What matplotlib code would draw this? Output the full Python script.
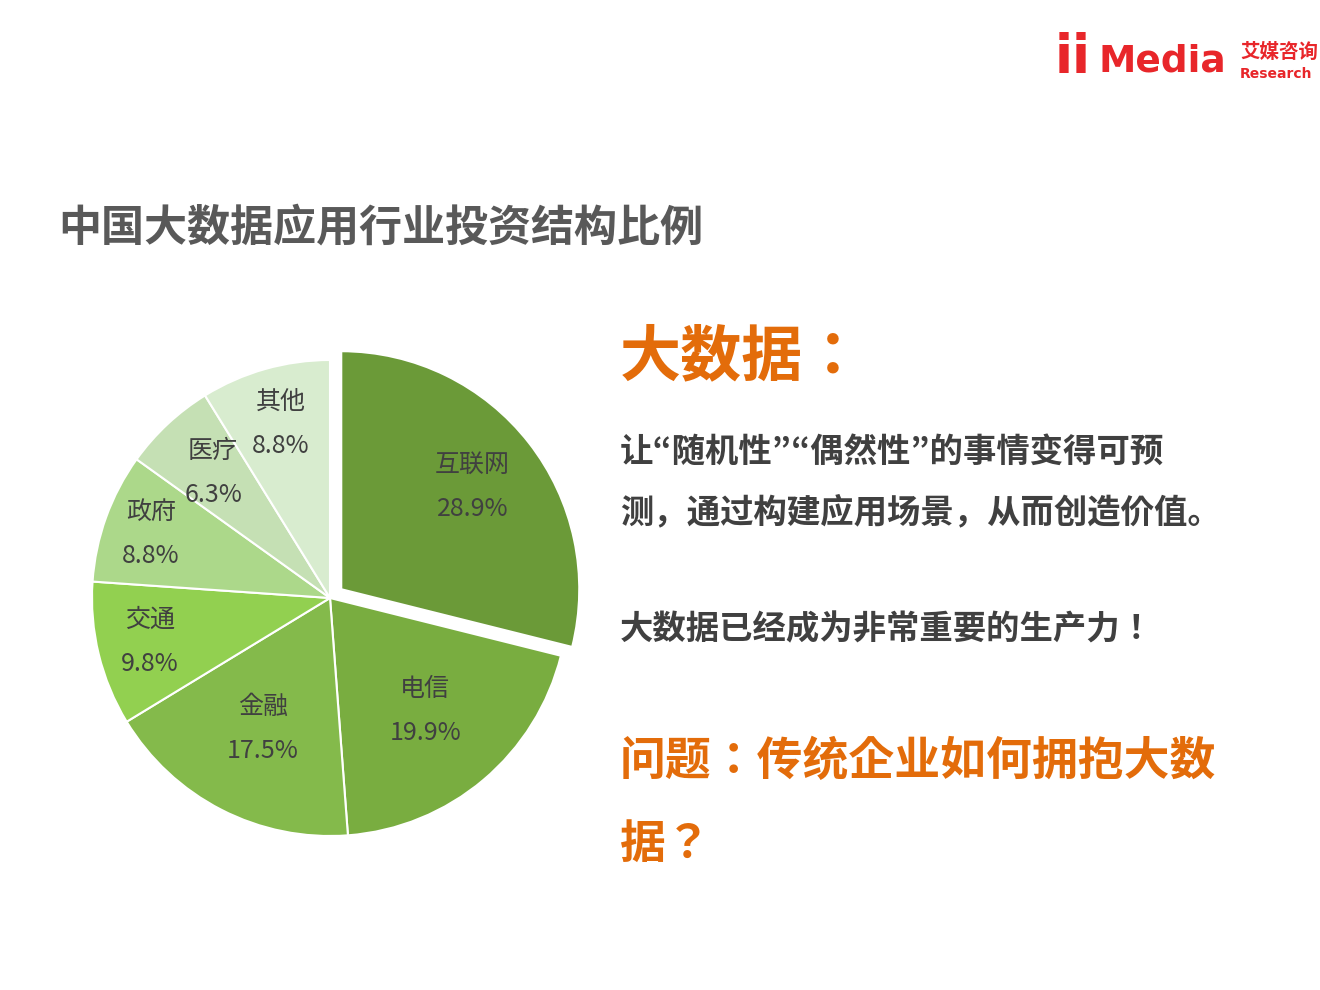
import matplotlib
matplotlib.use("Agg")
import matplotlib.pyplot as plt
import numpy as np

categories = ["互联网", "电信", "金融", "交通", "政府", "医疗", "其他"]
values = [28.9, 19.9, 17.5, 9.8, 8.8, 6.3, 8.8]
colors = ["#6b9a38", "#79ad40", "#84ba4b", "#92d050", "#acd88a", "#c5e0b4", "#d8eccf"]
explode = [0.06, 0, 0, 0, 0, 0, 0]
label_dist = [0.70, 0.62, 0.62, 0.78, 0.8, 0.72, 0.76]

plt.rcParams["font.family"] = ["Noto Sans CJK SC", "Noto Sans CJK JP", "DejaVu Sans"]
CJK = ["Noto Sans CJK SC", "Noto Sans CJK JP", "DejaVu Sans"]

W, H = 1320, 990
fig = plt.figure(figsize=(W / 100, H / 100), dpi=100)
ax = fig.add_axes([0, 0, 1, 1])

cx, cy, R = 330, H - 598, 238
wedges, _ = ax.pie(values, colors=colors, explode=[e * R for e in explode], startangle=90,
                   counterclock=False, center=(cx, cy), radius=R,
                   wedgeprops=dict(edgecolor="white", linewidth=1.5))
ax.set_xlim(0, W)
ax.set_ylim(0, H)
ax.set_aspect("equal")
ax.axis("off")

for w, name, v, d, e in zip(wedges, categories, values, label_dist, explode):
    ang = np.deg2rad((w.theta1 + w.theta2) / 2)
    r = R * (d + e)
    x = cx + r * np.cos(ang)
    y = cy + r * np.sin(ang)
    ax.text(x, y + 22, name, ha="center", va="center", fontsize=18, color="#404040", family=CJK)
    ax.text(x, y - 22, f"{v}%", ha="center", va="center", fontsize=18, color="#404040", family=CJK)

ax.text(58, H - 228, "中国大数据应用行业投资结构比例", fontsize=31, fontweight="bold",
        color="#595959", ha="left", va="center", family=CJK)

orange = "#e36c0a"
kw = dict(fontweight="bold", ha="left", va="center", family=CJK)
ax.text(620, H - 358, "大数据：", fontsize=44, color=orange, **kw)
ax.text(620, H - 452, "让“随机性”“偶然性”的事情变得可预", fontsize=24, color="#404040", **kw)
ax.text(620, H - 512, "测，通过构建应用场景，从而创造价值。", fontsize=24, color="#404040", **kw)
ax.text(620, H - 630, "大数据已经成为非常重要的生产力！", fontsize=24, color="#404040", **kw)
ax.text(620, H - 762, "问题：传统企业如何拥抱大数", fontsize=33, color=orange, **kw)
ax.text(620, H - 845, "据？", fontsize=33, color=orange, **kw)

red = "#e8262a"
ax.text(1055, H - 58, "ii", fontsize=38, fontweight="bold", color=red, ha="left", va="center",
        family="DejaVu Sans")
ax.text(1098, H - 62, "Media", fontsize=27, fontweight="bold", color=red, ha="left", va="center",
        family="DejaVu Sans")
ax.text(1240, H - 52, "艾媒咨询", fontsize=14, fontweight="bold", color=red, ha="left", va="center",
        family=CJK)
ax.text(1240, H - 74, "Research", fontsize=10, fontweight="bold", color=red, ha="left", va="center",
        family="DejaVu Sans")

fig.savefig("out.png", dpi=100, facecolor="white")
